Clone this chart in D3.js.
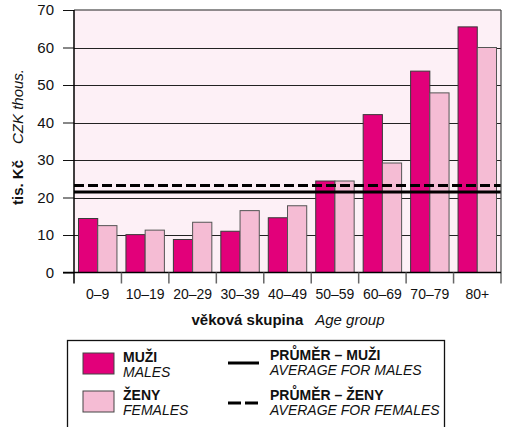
<!DOCTYPE html>
<html>
<head>
<meta charset="utf-8">
<script src="https://cdn.jsdelivr.net/npm/d3@7"></script>
<style>
  body { margin: 0; background: #fff; }
  svg { display: block; font-family: "Liberation Sans", Arial, sans-serif; }
</style>
</head>
<body>
<svg id="chart" width="508" height="427"></svg>
<script>
const ageGroups = ["0–9", "10–19", "20–29", "30–39", "40–49", "50–59", "60–69", "70–79", "80+"];
const males = [14.4, 10.1, 8.8, 11.0, 14.6, 24.4, 42.1, 53.7, 65.5];
const females = [12.5, 11.3, 13.4, 16.5, 17.8, 24.4, 29.2, 47.9, 60.0];
const avgMales = 21.5;
const avgFemales = 23.2;
const yTicks = [0, 10, 20, 30, 40, 50, 60, 70];

const MALE_COLOR = "#e2007a";
const FEMALE_COLOR = "#f5bcd4";

const svg = d3.select("#chart");
const margin = { left: 74, right: 7, top: 10 };
const plotBottom = 272.5;
const width = 508 - margin.left - margin.right;

const x = d3.scaleBand().domain(ageGroups).range([margin.left, margin.left + width]).paddingInner(0).paddingOuter(0);
const y = d3.scaleLinear().domain([0, 70]).range([plotBottom, margin.top]);

// plot background
svg.append("rect")
  .attr("x", margin.left).attr("y", margin.top)
  .attr("width", width).attr("height", plotBottom - margin.top)
  .attr("fill", "#fdf0f6");

// gridlines + y ticks
const yAxis = svg.append("g")
  .attr("transform", `translate(${margin.left},0)`)
  .call(d3.axisLeft(y).tickValues(yTicks).tickSize(11).tickPadding(9).tickFormat(d3.format("d")));
yAxis.select(".domain").remove();
yAxis.selectAll("line").attr("stroke", "#111");
yAxis.selectAll("text").attr("font-size", 15).attr("fill", "#111");

svg.append("g").selectAll("line")
  .data(yTicks.filter(d => d > 0 && d < 70))
  .join("line")
  .attr("x1", margin.left).attr("x2", margin.left + width)
  .attr("y1", d => Math.round(y(d)) + 0.5).attr("y2", d => Math.round(y(d)) + 0.5)
  .attr("stroke", "#222").attr("stroke-width", 1);

// bars
const pad = 4.5;
const barW = (x.bandwidth() - 2 * pad) / 2;
const groups = svg.append("g").selectAll("g")
  .data(ageGroups)
  .join("g");

groups.append("rect")
  .attr("x", (d) => x(d) + pad)
  .attr("y", (d, i) => y(males[i]))
  .attr("width", barW)
  .attr("height", (d, i) => y(0) - y(males[i]))
  .attr("fill", MALE_COLOR)
  .attr("stroke", "#3a3a3a").attr("stroke-width", 1);

groups.append("rect")
  .attr("x", (d) => x(d) + pad + barW)
  .attr("y", (d, i) => y(females[i]))
  .attr("width", barW)
  .attr("height", (d, i) => y(0) - y(females[i]))
  .attr("fill", FEMALE_COLOR)
  .attr("stroke", "#555").attr("stroke-width", 1);

// average lines
svg.append("line")
  .attr("x1", margin.left).attr("x2", margin.left + width)
  .attr("y1", y(avgMales)).attr("y2", y(avgMales))
  .attr("stroke", "#000").attr("stroke-width", 3);
svg.append("line")
  .attr("x1", margin.left).attr("x2", margin.left + width)
  .attr("y1", y(avgFemales)).attr("y2", y(avgFemales))
  .attr("stroke", "#000").attr("stroke-width", 3)
  .attr("stroke-dasharray", "10,4");

// frame: top and right border
svg.append("line")
  .attr("x1", margin.left).attr("x2", margin.left + width)
  .attr("y1", margin.top).attr("y2", margin.top)
  .attr("stroke", "#222").attr("stroke-width", 1.2);
svg.append("line")
  .attr("x1", margin.left + width).attr("x2", margin.left + width)
  .attr("y1", margin.top).attr("y2", plotBottom + 11)
  .attr("stroke", "#444").attr("stroke-width", 1.2);
// left axis line
svg.append("line")
  .attr("x1", margin.left).attr("x2", margin.left)
  .attr("y1", margin.top).attr("y2", plotBottom + 11)
  .attr("stroke", "#000").attr("stroke-width", 1.5);
// bottom axis line
svg.append("line")
  .attr("x1", margin.left - 11).attr("x2", margin.left + width)
  .attr("y1", plotBottom).attr("y2", plotBottom)
  .attr("stroke", "#000").attr("stroke-width", 1.5);

// x ticks at band boundaries
svg.append("g").selectAll("line")
  .data(ageGroups.slice(1))
  .join("line")
  .attr("x1", d => x(d)).attr("x2", d => x(d))
  .attr("y1", plotBottom).attr("y2", plotBottom + 11)
  .attr("stroke", "#666").attr("stroke-width", 1.5);

// x labels
svg.append("g").selectAll("text")
  .data(ageGroups)
  .join("text")
  .attr("x", d => x(d) + x.bandwidth() / 2)
  .attr("y", 299)
  .attr("text-anchor", "middle")
  .attr("font-size", 14)
  .attr("fill", "#111")
  .text(d => d);

// x title
const xt = svg.append("text").attr("x", 288).attr("y", 325).attr("text-anchor", "middle").attr("font-size", 15).attr("fill", "#111");
xt.append("tspan").attr("font-weight", "bold").text("věková skupina");
xt.append("tspan").attr("dx", 12).attr("font-style", "italic").text("Age group");

// y title
const yt = svg.append("text")
  .attr("transform", "translate(23,137) rotate(-90)")
  .attr("text-anchor", "middle").attr("font-size", 15).attr("fill", "#111");
yt.append("tspan").attr("font-weight", "bold").text("tis. Kč");
yt.append("tspan").attr("dx", 16).attr("font-style", "italic").text("CZK thous.");

// legend
const lg = svg.append("g");
lg.append("rect")
  .attr("x", 67.5).attr("y", 340.5).attr("width", 377).attr("height", 100)
  .attr("fill", "#fff").attr("stroke", "#111").attr("stroke-width", 1.3);

const swatches = [
  { color: MALE_COLOR, cz: "MUŽI", en: "MALES", y: 353 },
  { color: FEMALE_COLOR, cz: "ŽENY", en: "FEMALES", y: 391 }
];
swatches.forEach(s => {
  lg.append("rect").attr("x", 83).attr("y", s.y).attr("width", 31).attr("height", 21)
    .attr("fill", s.color).attr("stroke", "#444").attr("stroke-width", 1);
  lg.append("text").attr("x", 123).attr("y", s.y + 9).attr("font-size", 14).attr("font-weight", "bold").attr("fill", "#111").text(s.cz);
  lg.append("text").attr("x", 123).attr("y", s.y + 24).attr("font-size", 14).attr("font-style", "italic").attr("fill", "#111").text(s.en);
});

const lineItems = [
  { dash: null, cz: "PRŮMĚR – MUŽI", en: "AVERAGE FOR MALES", y: 363 },
  { dash: "13,4", cz: "PRŮMĚR – ŽENY", en: "AVERAGE FOR FEMALES", y: 403 }
];
lineItems.forEach(l => {
  lg.append("line").attr("x1", 228).attr("x2", 259).attr("y1", l.y).attr("y2", l.y)
    .attr("stroke", "#000").attr("stroke-width", 3)
    .attr("stroke-dasharray", l.dash);
  lg.append("text").attr("x", 270).attr("y", l.y - 3).attr("font-size", 14).attr("font-weight", "bold").attr("fill", "#111").text(l.cz);
  lg.append("text").attr("x", 270).attr("y", l.y + 12).attr("font-size", 14).attr("font-style", "italic").attr("fill", "#111").text(l.en);
});
</script>
</body>
</html>
